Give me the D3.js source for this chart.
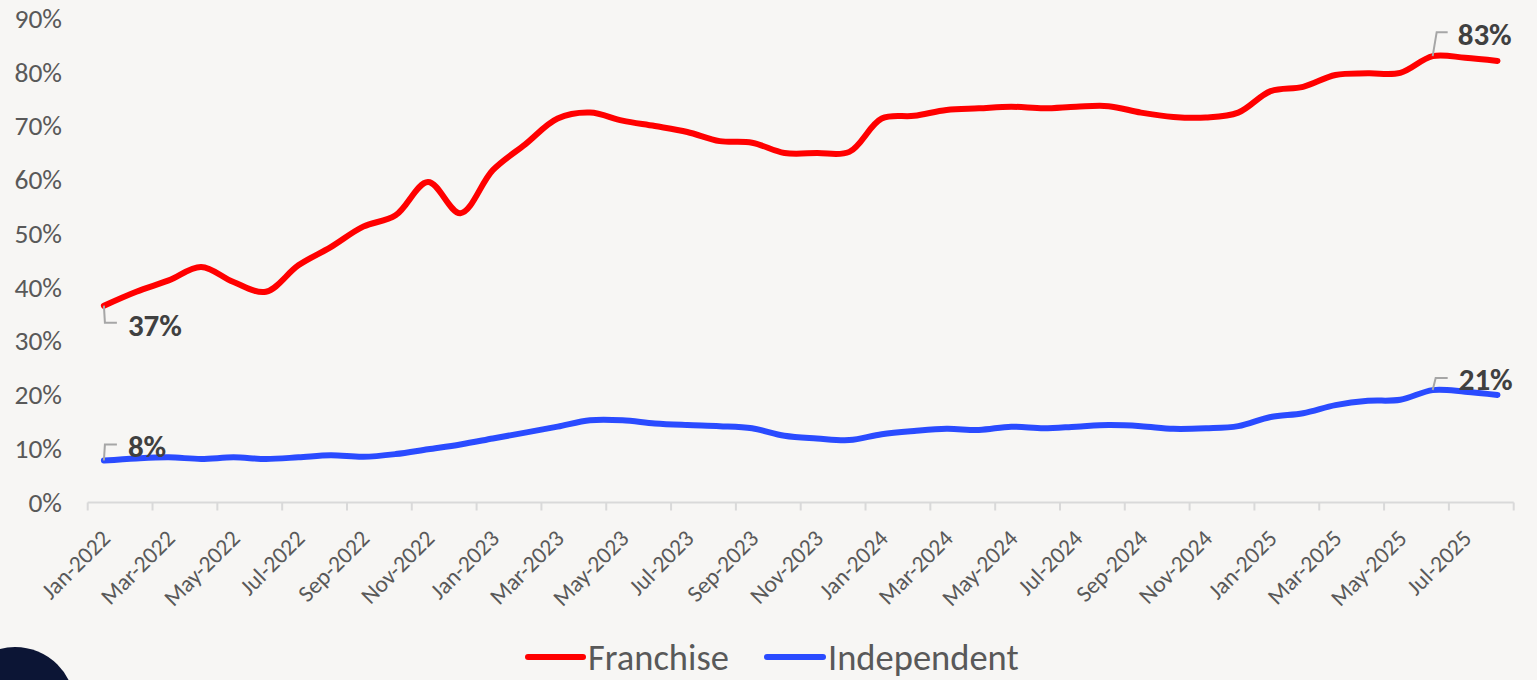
<!DOCTYPE html>
<html lang="en">
<head>
    <meta charset="UTF-8">
    <title>Franchise vs Independent</title>
    <style>
        html, body { margin: 0; padding: 0; background: #f7f6f4; }
        svg { display: block; }
        text { font-family: Carlito, Calibri, "Open Sans", sans-serif; }
    </style>
</head>
<body>
    <div id="chart"></div>

    <script src="https://d3js.org/d3.v7.min.js"></script>
    <script>
        const width = 1537;
        const height = 680;

        // monthly categories Jan-2022 .. Aug-2025
        const months = ["Jan","Feb","Mar","Apr","May","Jun","Jul","Aug","Sep","Oct","Nov","Dec"];
        const categories = [];
        for (let yr = 2022; yr <= 2025; yr++) {
            months.forEach((m, i) => {
                if (yr === 2025 && i > 7) return;
                categories.push(m + "-" + yr);
            });
        }

        // share in %
        const franchise = [
            36.6, 39.2, 41.3, 43.8, 41.0, 39.2, 44.1, 47.5, 51.3, 53.4, 59.6, 53.8,
            61.8, 66.6, 71.4, 72.5, 71.0, 70.0, 68.9, 67.2, 66.9, 65.0, 65.0, 65.2,
            71.4, 71.9, 73.0, 73.3, 73.6, 73.3, 73.6, 73.7, 72.5, 71.7, 71.6, 72.5,
            76.5, 77.3, 79.5, 79.8, 79.9, 83.0, 82.7, 82.1
        ];
        const independent = [
            7.8, 8.2, 8.4, 8.1, 8.4, 8.1, 8.4, 8.8, 8.5, 9.0, 9.9, 10.8,
            11.9, 13.0, 14.1, 15.3, 15.3, 14.7, 14.4, 14.2, 13.8, 12.4, 11.9, 11.6,
            12.7, 13.3, 13.7, 13.5, 14.1, 13.8, 14.1, 14.4, 14.2, 13.7, 13.8, 14.2,
            15.9, 16.6, 18.1, 18.9, 19.1, 20.9, 20.6, 20.0
        ];
        const yTicks = [0, 10, 20, 30, 40, 50, 60, 70, 80, 90];

        const series = [
            { name: "Franchise", values: franchise, color: "#ff0000" },
            { name: "Independent", values: independent, color: "#2a4bff" }
        ];

        // which points get a data label, with leader offsets
        const callouts = [
            { s: 0, i: 0,  elbow: [1, 17],  end: 13, lx: 24, ly: 19 },
            { s: 1, i: 0,  elbow: [1, -16], end: 13, lx: 24, ly: -14 },
            { s: 0, i: 41, elbow: [4, -24], end: 15, lx: 25, ly: -22 },
            { s: 1, i: 41, elbow: [3, -12], end: 15, lx: 26, ly: -11 }
        ];

        const plotLeft = 87.7, plotRight = 1513.7, plotTop = 18.5, plotBottom = 502.5;

        const svg = d3.select("#chart").append("svg")
            .attr("width", width)
            .attr("height", height);

        svg.append("rect")
            .attr("width", width).attr("height", height)
            .attr("fill", "#f7f6f4");

        const x = d3.scalePoint()
            .domain(categories)
            .range([plotLeft, plotRight])
            .padding(0.5);

        const y = d3.scaleLinear()
            .domain([0, 90])
            .range([plotBottom, plotTop]);

        // y axis labels (no line, no gridlines)
        const yAxis = d3.axisLeft(y)
            .tickValues(yTicks)
            .tickFormat(d => d + "%")
            .tickSize(0)
            .tickPadding(0);

        svg.append("g")
            .attr("transform", "translate(62,0)")
            .call(yAxis)
            .call(g => g.select(".domain").remove())
            .call(g => g.selectAll("text")
                .attr("fill", "#595959")
                .attr("font-size", 27.5));
        svg.selectAll("g").attr("font-family", null);

        // x axis: base line + ticks every two months
        const step = x.step();
        const tickPos = d3.range(0, categories.length + 1, 2).map(k => plotLeft + k * step);

        svg.append("line")
            .attr("x1", plotLeft).attr("x2", plotRight)
            .attr("y1", plotBottom).attr("y2", plotBottom)
            .attr("stroke", "#d9d9d9")
            .attr("stroke-width", 2);

        svg.append("g")
            .selectAll("line")
            .data(tickPos)
            .join("line")
            .attr("x1", d => d).attr("x2", d => d)
            .attr("y1", plotBottom).attr("y2", plotBottom + 8)
            .attr("stroke", "#d9d9d9")
            .attr("stroke-width", 2);

        svg.append("g")
            .selectAll("text")
            .data(categories.filter((c, i) => i % 2 === 0))
            .join("text")
            .attr("transform", d => `translate(${x(d) + 2},534) rotate(-45)`)
            .attr("text-anchor", "end")
            .attr("dy", "0.35em")
            .attr("fill", "#595959")
            .attr("font-size", 23.5)
            .text(d => d);

        // lines
        const line = d3.line()
            .x((d, i) => x(categories[i]))
            .y(d => y(d))
            .curve(d3.curveCatmullRom.alpha(0.5));

        svg.append("g")
            .selectAll("path")
            .data(series)
            .join("path")
            .attr("d", d => line(d.values))
            .attr("fill", "none")
            .attr("stroke", d => d.color)
            .attr("stroke-width", 6)
            .attr("stroke-linecap", "round")
            .attr("stroke-linejoin", "round");

        // data labels with leader lines
        const fmt = d3.format(".0%");
        const cg = svg.append("g");
        callouts.forEach(c => {
            const px = x(categories[c.i]);
            const py = y(series[c.s].values[c.i]);
            cg.append("polyline")
                .attr("points", [
                    [px, py],
                    [px + c.elbow[0], py + c.elbow[1]],
                    [px + c.end, py + c.elbow[1]]
                ].join(" "))
                .attr("fill", "none")
                .attr("stroke", "#a6a6a6")
                .attr("stroke-width", 2);
            cg.append("text")
                .attr("x", px + c.lx)
                .attr("y", py + c.ly)
                .attr("dy", "0.35em")
                .attr("fill", "#404040")
                .attr("font-size", 31)
                .attr("font-weight", "bold")
                .text(fmt(series[c.s].values[c.i] / 100));
        });

        // legend
        const legendItems = [
            { s: series[0], x1: 528, x2: 583 },
            { s: series[1], x1: 767, x2: 823 }
        ];
        const lg = svg.append("g");
        legendItems.forEach(l => {
            lg.append("line")
                .attr("x1", l.x1).attr("x2", l.x2)
                .attr("y1", 657).attr("y2", 657)
                .attr("stroke", l.s.color)
                .attr("stroke-width", 6)
                .attr("stroke-linecap", "round");
            lg.append("text")
                .attr("x", l.x2 + 5)
                .attr("y", 657)
                .attr("dy", "0.35em")
                .attr("fill", "#595959")
                .attr("font-size", 36.5)
                .text(l.s.name);
        });

        // dark corner badge
        svg.append("circle")
            .attr("cx", 15).attr("cy", 707).attr("r", 60)
            .attr("fill", "#0c1535");
    </script>
</body>
</html>
